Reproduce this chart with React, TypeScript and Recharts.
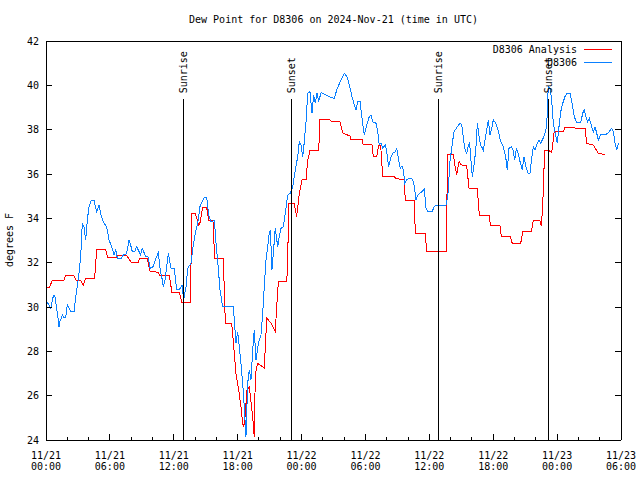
import { LineChart, Line, XAxis, YAxis, ReferenceLine } from "recharts"

// hours since 11/21 00:00 UTC, dew point in F
const analysisHours = [
  0, 0.33, 0.59, 1.69, 1.83, 2.63, 2.82, 3.26, 3.5, 3.73, 4.57, 4.76, 5.61, 5.78, 6.64, 6.71, 7.58, 8.01,
  8.67, 8.78, 9.51, 9.77, 10.58, 10.66, 11.58, 11.83, 12.52, 12.77, 13.55, 13.71, 14.02, 14.34, 14.46,
  14.72, 15.09, 15.28, 15.68, 15.84, 16.65, 16.84, 17.44, 17.66, 17.84, 18.1, 18.31, 18.47, 18.57, 18.69,
  18.88, 19.09, 19.41, 19.56, 19.66, 19.88, 20.5, 20.73, 21.13, 21.53, 21.76, 21.85, 22.61, 22.7, 22.79,
  23.32, 23.54, 23.79, 24.04, 24.42, 24.58, 24.79, 25.61, 25.73, 26.55, 26.86, 27.61, 27.86, 28.55, 28.64,
  29.68, 29.8, 30.62, 30.74, 31.06, 31.25, 31.43, 31.62, 32.71, 32.87, 33.65, 33.74, 34.59, 34.68, 35.62,
  35.75, 37.57, 37.63, 37.69, 38.25, 38.48, 38.57, 38.79, 39.0, 39.51, 39.73, 40.51, 40.69, 41.6, 41.76,
  42.64, 42.76, 43.58, 43.79, 44.58, 44.77, 45.58, 45.76, 46.39, 46.52, 46.65, 46.83, 47.15, 47.49, 47.71,
  47.8, 48.58, 48.74, 50.62, 50.78, 51.4, 51.87, 52.5,
]
const analysisValues = [
  30.9, 30.9, 31.2, 31.2, 31.4, 31.4, 31.2, 31.2, 31.0, 31.3, 31.3, 32.6, 32.6, 32.25, 32.25, 32.33, 32.33, 32.0,
  32.0, 32.2, 32.2, 31.6, 31.57, 31.4, 31.4, 30.66, 30.66, 30.2, 30.2, 34.23, 34.23, 33.7, 33.8,
  34.5, 34.5, 33.9, 33.9, 32.2, 32.2, 29.27, 29.27, 28.06, 27.0, 26.26, 25.5, 24.76, 24.57, 25.05,
  26.26, 26.4, 25.05, 24.15, 27.0, 27.46, 27.24, 29.5, 29.27, 28.9, 30.77, 31.14, 31.14, 32.12, 34.65,
  34.65, 34.08, 35.13, 35.73, 35.73, 36.63, 37.05, 37.05, 38.47, 38.47, 38.36, 38.36, 37.86, 37.71, 37.56,
  37.56, 37.31, 37.31, 36.78, 36.78, 37.3, 37.3, 35.88, 35.88, 35.8, 35.73, 34.8, 34.8, 33.33, 33.33,
  32.5, 32.5, 33.25, 36.86, 36.86, 36.18, 35.96, 36.56, 36.41, 36.36, 35.35, 35.35, 34.15, 34.15, 33.66,
  33.66, 33.2, 33.2, 32.87, 32.87, 33.4, 33.4, 33.9, 33.9, 33.66, 34.6, 37.08, 37.08, 36.96, 37.84,
  37.9, 37.9, 38.1, 38.05, 37.39, 37.3, 36.93, 36.88,
]

const obsHours = [
  0.07, 0.28, 0.44, 0.69, 0.82, 0.97, 1.13, 1.22, 1.31, 1.53, 1.69, 1.85, 2.0, 2.16, 2.32, 2.63, 2.79, 2.94,
  3.1, 3.26, 3.41, 3.57, 3.73, 3.88, 4.04, 4.25, 4.51, 4.76, 4.98, 5.19, 5.45, 5.7, 5.92, 6.17, 6.39, 6.55,
  6.7, 7.07, 7.26, 7.47, 7.64, 7.79, 7.95, 8.1, 8.33, 8.52, 8.64, 8.89, 9.04, 9.36, 9.58, 9.77, 10.03, 10.33,
  10.55, 10.73, 10.89, 11.02, 11.18, 11.34, 11.49, 11.74, 12.05, 12.27, 12.52, 12.77, 12.93, 13.15, 13.31,
  13.62, 13.83, 14.02, 14.25, 14.46, 14.65, 14.87, 15.09, 15.28, 15.5, 15.81, 15.97, 16.13, 16.34, 16.59,
  17.59, 17.68, 17.84, 18.0, 18.15, 18.31, 18.47, 18.62, 18.78, 18.94, 19.09, 19.25, 19.41, 19.56, 19.72,
  19.98, 20.19, 20.35, 20.5, 20.66, 20.82, 20.97, 21.07, 21.22, 21.35, 21.53, 21.76, 21.91, 22.07, 22.29,
  22.47, 22.7, 22.94, 23.17, 23.41, 23.64, 23.79, 23.95, 24.11, 24.26, 24.42, 24.58, 24.79, 24.98, 25.14,
  25.29, 25.45, 25.61, 25.83, 26.3, 26.77, 27.08, 27.3, 27.7, 28.01, 28.27, 28.48, 28.74, 28.95, 29.11,
  29.27, 29.49, 29.68, 29.89, 30.12, 30.36, 30.52, 30.68, 30.99, 31.15, 31.3, 31.46, 31.62, 31.87, 32.0,
  32.18, 32.4, 32.56, 32.8, 32.94, 33.12, 33.27, 33.43, 33.56, 33.69, 33.87, 34.12, 34.44, 34.59, 34.75,
  34.91, 35.12, 35.31, 35.53, 35.69, 35.85, 36.25, 36.47, 36.63, 37.57, 37.63, 37.75, 37.94, 38.16, 38.32,
  38.63, 38.88, 39.04, 39.19, 39.32, 39.51, 39.63, 39.79, 39.89, 40.04, 40.2, 40.36, 40.51, 40.67, 40.82,
  41.07, 41.23, 41.39, 41.54, 41.7, 41.86, 42.01, 42.23, 42.45, 42.7, 42.95, 43.17, 43.32, 43.48, 43.7,
  43.86, 44.02, 44.17, 44.33, 44.52, 44.73, 44.89, 45.08, 45.27, 45.45, 45.58, 45.76, 45.92, 46.08, 46.3,
  46.46, 46.68, 46.86, 47.02, 47.17, 47.33, 47.49, 47.64, 47.8, 48.02, 48.21, 48.34, 48.53, 48.74, 48.9,
  49.21, 49.46, 49.61, 49.84, 50.22, 50.4, 50.55, 50.71, 50.87, 51.02, 51.25, 51.4, 51.56, 51.72, 51.87,
  52.09, 52.5, 52.81, 53.13, 53.28, 53.44, 53.6, 53.75,
]
const obsValues = [
  30.24, 30.09, 29.94, 30.5, 30.54, 30.02, 29.5, 29.11, 29.34, 29.64, 29.5, 29.55, 30.09, 29.94, 29.79, 29.79, 30.47, 30.92,
  31.52, 32.27, 33.78, 33.62, 33.02, 33.92, 34.53, 34.8, 34.8, 34.3, 34.6, 34.08, 33.78, 33.62, 33.02, 32.72, 32.35, 32.57,
  32.2, 32.2, 32.35, 32.35, 32.57, 33.02, 32.8, 32.5, 32.5, 32.72, 32.6, 32.35, 32.65, 32.27, 32.27, 31.75, 31.8, 32.2,
  32.45, 31.67, 31.3, 30.92, 31.22, 31.82, 32.42, 31.75, 31.75, 30.77, 30.77, 31.0, 30.32, 30.92, 31.75,
  31.97, 32.8, 33.33, 33.78, 34.53, 34.75, 34.95, 34.95, 34.15, 33.85, 33.9, 32.87, 32.05, 30.77, 30.02,
  30.02, 29.42, 28.36, 28.89, 28.21, 27.46, 26.56, 25.5, 24.15, 26.56, 27.16, 26.71, 28.06, 28.96, 27.6,
  28.44, 28.74, 29.72, 30.92, 32.12, 32.72, 33.33, 33.47, 31.67, 32.42, 33.55, 32.72, 33.17, 33.55, 33.62,
  34.23, 35.05, 35.13, 35.43, 36.18, 36.78, 37.46, 37.31, 36.78, 37.46, 38.36, 39.64, 39.71, 38.74, 39.56,
  39.19, 39.64, 39.27, 39.67, 39.56, 39.46, 39.41, 39.79, 40.24, 40.54, 40.39, 40.02, 39.49, 39.11, 38.89,
  39.27, 39.27, 38.51, 37.76, 38.21, 38.59, 38.66, 38.36, 38.29, 37.91, 37.31, 37.39, 37.16, 37.31, 37.01,
  36.33, 36.78, 36.93, 37.01, 37.16, 36.63, 36.26, 36.36, 36.18, 35.58, 35.73, 35.81, 35.76, 35.43, 34.83,
  35.05, 35.13, 35.2, 35.31, 34.45, 34.3, 34.3, 34.53, 34.6, 34.6, 34.7, 35.13, 36.56, 37.39, 37.91,
  38.13, 38.29, 38.21, 37.68, 37.16, 36.93, 37.23, 37.39, 36.71, 35.88, 36.41, 37.08, 38.29, 37.68, 37.31,
  37.08, 37.53, 37.99, 38.44, 37.76, 38.06, 38.44, 38.29, 37.99, 37.46, 37.23, 36.78, 36.18, 37.16, 37.23,
  37.08, 36.63, 37.16, 36.93, 36.56, 36.18, 36.78, 36.33, 36.03, 36.03, 36.56, 37.23, 37.08, 37.31, 37.53,
  37.39, 37.61, 37.84, 38.13, 39.94, 39.87, 39.34, 38.29, 37.91, 37.39, 38.29, 38.81, 39.19, 39.49, 39.64,
  39.64, 39.04, 38.59, 38.32, 38.32, 38.74, 38.89, 38.59, 38.36, 38.51, 38.13, 37.91, 38.13, 37.84, 37.53,
  37.76, 37.76, 37.86, 38.06, 37.91, 37.39, 37.08, 37.39,
]

const seriesNames = ["D8306 Analysis", "D8306"]
const seriesColors = ["#ff0000", "#0a80ff"]

const sunNames = ["Sunrise", "Sunset", "Sunrise", "Sunset"]
const sunHours = [12.89, 23.1, 36.88, 47.17]
const sunLineTop = 39.37

const xTicks = [0, 2, 4, 6, 8, 10, 12, 14, 16, 18, 20, 22, 24, 26, 28, 30, 32, 34, 36, 38, 40, 42, 44, 46, 48, 50, 52, 54]
const xTickDays = ["11/21", "11/21", "11/21", "11/21", "11/22", "11/22", "11/22", "11/22", "11/23", "11/23"]
const xTickTimes = ["00:00", "06:00", "12:00", "18:00", "00:00", "06:00", "12:00", "18:00", "00:00", "06:00"]
const yTicks = [24, 26, 28, 30, 32, 34, 36, 38, 40, 42]

const FONT = "'DejaVu Sans Mono', 'Liberation Mono', monospace"

const analysisData = analysisHours.map((t, i) => ({ t, v: analysisValues[i] }))
const obsData = obsHours.map((t, i) => ({ t, v: obsValues[i] }))

function BottomTick(props: any) {
  const { x, y, payload } = props
  const h = payload.value
  const major = h % 6 === 0
  const i = h / 6
  return (
    <g>
      <line x1={x} x2={x} y1={y} y2={y - (major ? 6 : 3)} stroke="#000" />
      {major && (
        <text x={x} y={y} textAnchor="middle" fontFamily={FONT} fontSize={10} fill="#000">
          <tspan x={x} dy={19}>{xTickDays[i]}</tspan>
          <tspan x={x} dy={11}>{xTickTimes[i]}</tspan>
        </text>
      )}
    </g>
  )
}

function TopTick(props: any) {
  const { x, y, payload } = props
  const major = payload.value % 6 === 0
  return <line x1={x} x2={x} y1={y} y2={y + (major ? 6 : 3)} stroke="#000" />
}

function LeftTick(props: any) {
  const { x, y, payload } = props
  return (
    <g>
      <line x1={x} x2={x + 6} y1={y} y2={y} stroke="#000" />
      <text x={x - 7} y={y} dy={3.5} textAnchor="end" fontFamily={FONT} fontSize={10} fill="#000">
        {payload.value}
      </text>
    </g>
  )
}

function RightTick(props: any) {
  const { x, y } = props
  return <line x1={x} x2={x - 6} y1={y} y2={y} stroke="#000" />
}

function SunLabel(props: any) {
  const { viewBox, text } = props
  if (!viewBox) return null
  const x = viewBox.x + 3.5
  const y = viewBox.y - 6
  return (
    <text transform={`translate(${x},${y}) rotate(-90)`} fontFamily={FONT} fontSize={10} fill="#000">
      {text}
    </text>
  )
}

export default function App() {
  return (
    <div
      className="dew"
      style={{ position: "absolute", left: 0, top: 0, width: 640, height: 480, background: "#fff", fontFamily: FONT }}
    >
      <style>{`.dew svg line, .dew svg path { shape-rendering: crispEdges; }`}</style>
      <div
        style={{
          position: "absolute",
          left: 333.5,
          top: 14,
          transform: "translateX(-50%)",
          fontSize: 10,
          lineHeight: "12px",
          whiteSpace: "nowrap",
        }}
      >
        Dew Point for D8306 on 2024-Nov-21 (time in UTC)
      </div>
      <div
        style={{
          position: "absolute",
          left: 10,
          top: 240,
          transform: "translate(-50%, -50%) rotate(-90deg)",
          fontSize: 10,
          lineHeight: "12px",
          whiteSpace: "nowrap",
        }}
      >
        degrees F
      </div>
      <LineChart width={640} height={480} margin={{ top: 0, right: 0, bottom: 0, left: 0 }}>
        <XAxis
          dataKey="t"
          type="number"
          domain={[0, 54]}
          ticks={xTicks}
          interval={0}
          height={40}
          tickSize={0}
          tickMargin={0}
          tickLine={false}
          axisLine={{ stroke: "#000" }}
          tick={<BottomTick />}
          allowDataOverflow
        />
        <XAxis
          xAxisId="top"
          orientation="top"
          type="number"
          domain={[0, 54]}
          ticks={xTicks}
          interval={0}
          height={41}
          tickSize={0}
          tickMargin={0}
          tickLine={false}
          axisLine={{ stroke: "#000" }}
          tick={<TopTick />}
          allowDataOverflow
        />
        <YAxis
          type="number"
          domain={[24, 42]}
          ticks={yTicks}
          interval={0}
          width={46}
          tickSize={0}
          tickMargin={0}
          tickLine={false}
          axisLine={{ stroke: "#000" }}
          tick={<LeftTick />}
          allowDataOverflow
        />
        <YAxis
          yAxisId="right"
          orientation="right"
          type="number"
          domain={[24, 42]}
          ticks={yTicks}
          interval={0}
          width={19}
          tickSize={0}
          tickMargin={0}
          tickLine={false}
          axisLine={{ stroke: "#000" }}
          tick={<RightTick />}
          allowDataOverflow
        />
        <Line
          data={analysisData}
          dataKey="v"
          name={seriesNames[0]}
          type="linear"
          stroke={seriesColors[0]}
          strokeWidth={1}
          dot={false}
          isAnimationActive={false}
        />
        <Line
          data={obsData}
          dataKey="v"
          name={seriesNames[1]}
          type="linear"
          stroke={seriesColors[1]}
          strokeWidth={1}
          dot={false}
          isAnimationActive={false}
        />
        {sunHours.map((h, i) => (
          <ReferenceLine
            key={`sun-${i}`}
            segment={[
              { x: h, y: 24 },
              { x: h, y: sunLineTop },
            ]}
            stroke="#000"
            strokeWidth={1}
            label={<SunLabel text={sunNames[i]} />}
          />
        ))}
      </LineChart>
      {/* key box, top right inside the plot */}
      <div style={{ position: "absolute", left: 472, top: 43, width: 140, fontSize: 10, color: "#000" }}>
        {seriesNames.map((name, i) => (
          <div
            key={name}
            style={{ display: "flex", justifyContent: "flex-end", alignItems: "center", height: 13 }}
          >
            <span style={{ marginRight: 7, lineHeight: "13px" }}>{name}</span>
            <span style={{ width: 28, height: 0, borderTop: `1px solid ${seriesColors[i]}` }} />
          </div>
        ))}
      </div>
    </div>
  )
}
